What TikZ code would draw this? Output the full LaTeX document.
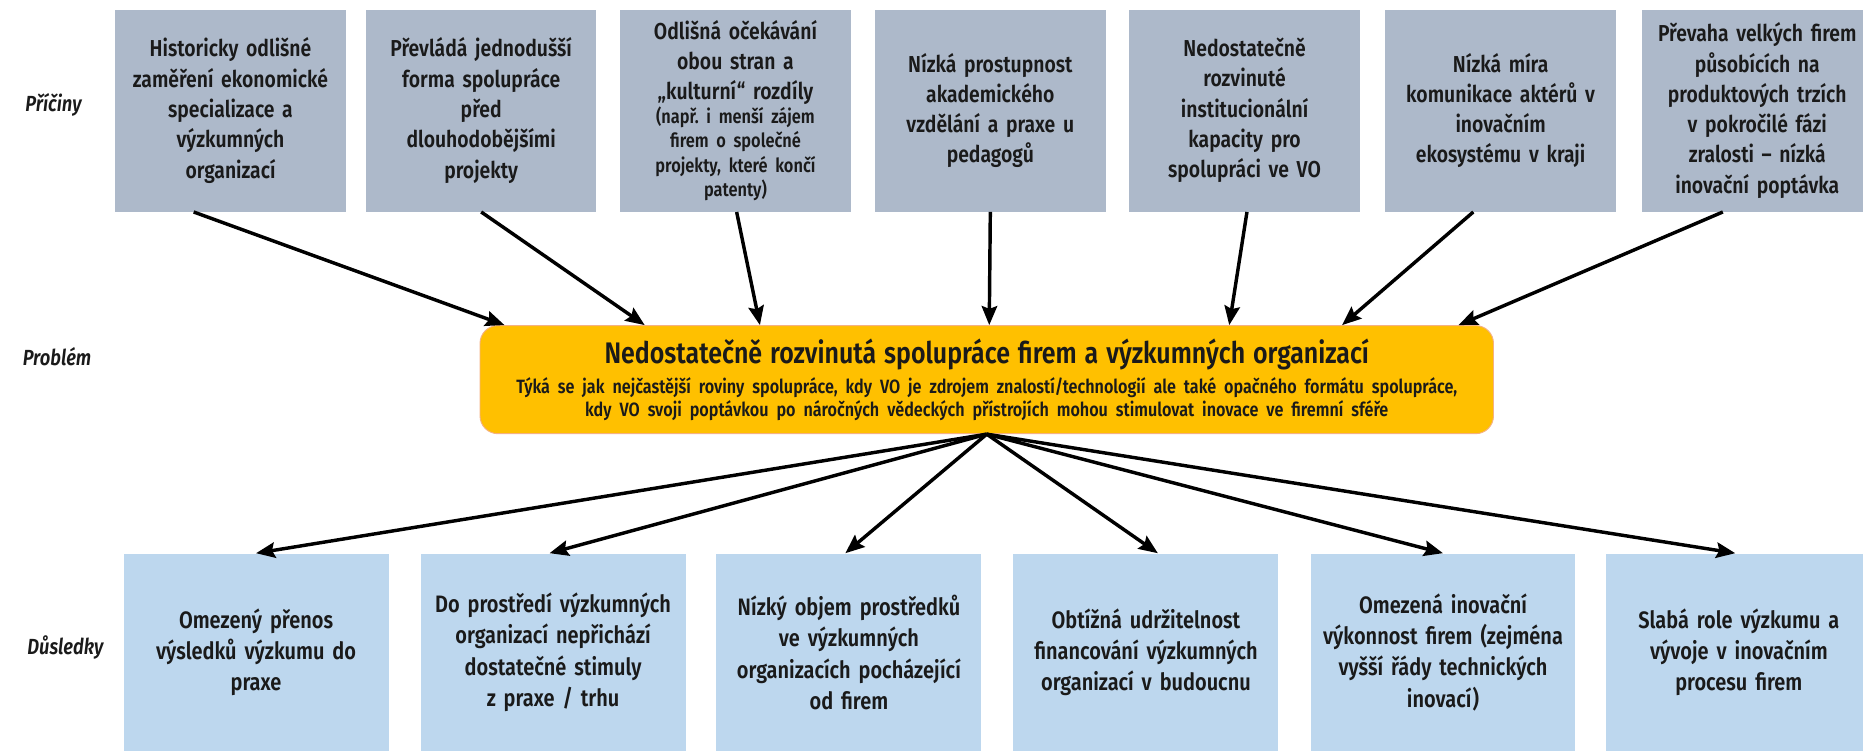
\documentclass[tikz,border=0pt]{standalone}
\usepackage{fontspec}
\setmainfont{Fira Sans}[FakeStretch=0.84, WordSpace=0.85, UprightFont={* SemiBold}, ItalicFont={* SemiBold Italic}]
\usetikzlibrary{arrows.meta,calc}
\definecolor{topc}{HTML}{ADB9CA}
\definecolor{botc}{HTML}{BDD7EE}
\definecolor{orng}{HTML}{FFC000}
\definecolor{orngline}{HTML}{F4B183}
\definecolor{txt}{HTML}{1A1A1A}
\tikzset{
  cause/.style={fill=topc, minimum width=97pt, minimum height=85pt, text width=95pt,
    align=center, inner sep=0pt, font=\frenchspacing\fontsize{9.7}{12.75}\selectfont, text=txt},
  effect/.style={fill=botc, minimum width=111.5pt, minimum height=83pt, text width=109pt,
    align=center, inner sep=0pt, font=\frenchspacing\fontsize{10}{13.2}\selectfont, text=txt},
  lbl/.style={font=\fontsize{9.2}{11}\selectfont\itshape, text=txt},
  probbox/.style={fill=orng, draw=orngline, line width=0.4pt, rounded corners=7.5pt,
    minimum width=426.5pt, minimum height=45.5pt, text width=424pt, inner sep=0pt,
    align=center, text=txt, font=\frenchspacing},
  arr/.style={line width=1.45pt, -{Stealth[length=8pt,width=6.5pt,inset=1.2pt]}},
}
\begin{document}
\begin{tikzpicture}[x=0.5pt,y=-0.5pt]
\useasboundingbox (0,0) rectangle (1568,634);
\clip (0,0) rectangle (1568,634);

% labels
\node[lbl] (lc) at (45,88) {Příčiny};
\node[lbl] (lp) at (48,300) {Problém};
\node[lbl] (ld) at (55,545) {Důsledky};

% causes
\node[cause] (t1) at (194,93) {Historicky odlišné\\zaměření ekonomické\\specializace a\\výzkumných\\organizací};
\node[cause] (t2) at (405,93) {Převládá jednodušší\\forma spolupráce\\před\\dlouhodobějšími\\projekty};
\node[cause] (t3) at (619,93) {Odlišná očekávání\\obou stran a\\„kulturní“ rozdíly\\[-0.5pt]{\fontsize{8.2}{10.3}\selectfont (např. i menší zájem\\firem o společné\\projekty, které končí\\patenty)\par}};
\node[cause] (t4) at (833.5,93) {Nízká prostupnost\\akademického\\vzdělání a praxe u\\pedagogů};
\node[cause] (t5) at (1047.5,93) {Nedostatečně\\rozvinuté\\institucionální\\kapacity pro\\spolupráci ve VO};
\node[cause] (t6) at (1263,93) {Nízká míra\\komunikace aktérů v\\inovačním\\ekosystému v kraji};
\node[cause] (t7) at (1479,93) {Převaha velkých firem\\působících na\\produktových trzích\\v pokročilé fázi\\zralosti – nízká\\inovační poptávka};

% problem
\node[probbox] (prob) at (830.5,319.5) {{\fontsize{12.5}{13.5}\selectfont Nedostatečně rozvinutá spolupráce firem a výzkumných organizací}\\[3.5pt]
{\fontsize{8.1}{9.5}\selectfont Týká se jak nejčastější roviny spolupráce, kdy VO je zdrojem znalostí/technologií ale také opačného formátu spolupráce,\\kdy VO svoji poptávkou po náročných vědeckých přístrojích mohou stimulovat inovace ve firemní sféře\par}};

% effects
\node[effect] (b1) at (215.5,549) {Omezený přenos\\výsledků výzkumu do\\praxe};
\node[effect] (b2) at (465.5,549) {Do prostředí výzkumných\\organizací nepřichází\\dostatečné stimuly\\z praxe / trhu};
\node[effect] (b3) at (714.5,549) {Nízký objem prostředků\\ve výzkumných\\organizacích pocházející\\od firem};
\node[effect] (b4) at (964.5,549) {Obtížná udržitelnost\\financování výzkumných\\organizací v budoucnu};
\node[effect] (b5) at (1214.5,549) {Omezená inovační\\výkonnost firem (zejména\\vyšší řády technických\\inovací)};
\node[effect] (b6) at (1463.5,549) {Slabá role výzkumu a\\vývoje v inovačním\\procesu firem};

% arrows causes -> problem
\draw[arr] ($(t1.south)+(-31,0)$) -- ($(prob.north west)+(21,0)$);
\draw[arr] ($(t2.south)+(0,0)$) -- ($(prob.north west)+(139,0)$);
\draw[arr] ($(t3.south)+(1,0)$) -- ($(prob.north west)+(236,0)$);
\draw[arr] ($(t4.south)+(0,0)$) -- ($(prob.north west)+(429,0)$);
\draw[arr] ($(t5.south)+(2,0)$) -- ($(prob.north west)+(631,0)$);
\draw[arr] ($(t6.south)+(-23,0)$) -- ($(prob.north west)+(726,0)$);
\draw[arr] ($(t7.south)+(-29,0)$) -- ($(prob.north west)+(824,0)$);

% arrows problem -> effects
\draw[arr] (prob.south) -- (b1.north);
\draw[arr] (prob.south) -- ($(b2.north)+(-3,0)$);
\draw[arr] (prob.south) -- ($(b3.north)+(-3,0)$);
\draw[arr] (prob.south) -- ($(b4.north)+(10,0)$);
\draw[arr] (prob.south) -- (b5.north);
\draw[arr] (prob.south) -- ($(b6.north)+(-3,0)$);
\end{tikzpicture}
\end{document}
